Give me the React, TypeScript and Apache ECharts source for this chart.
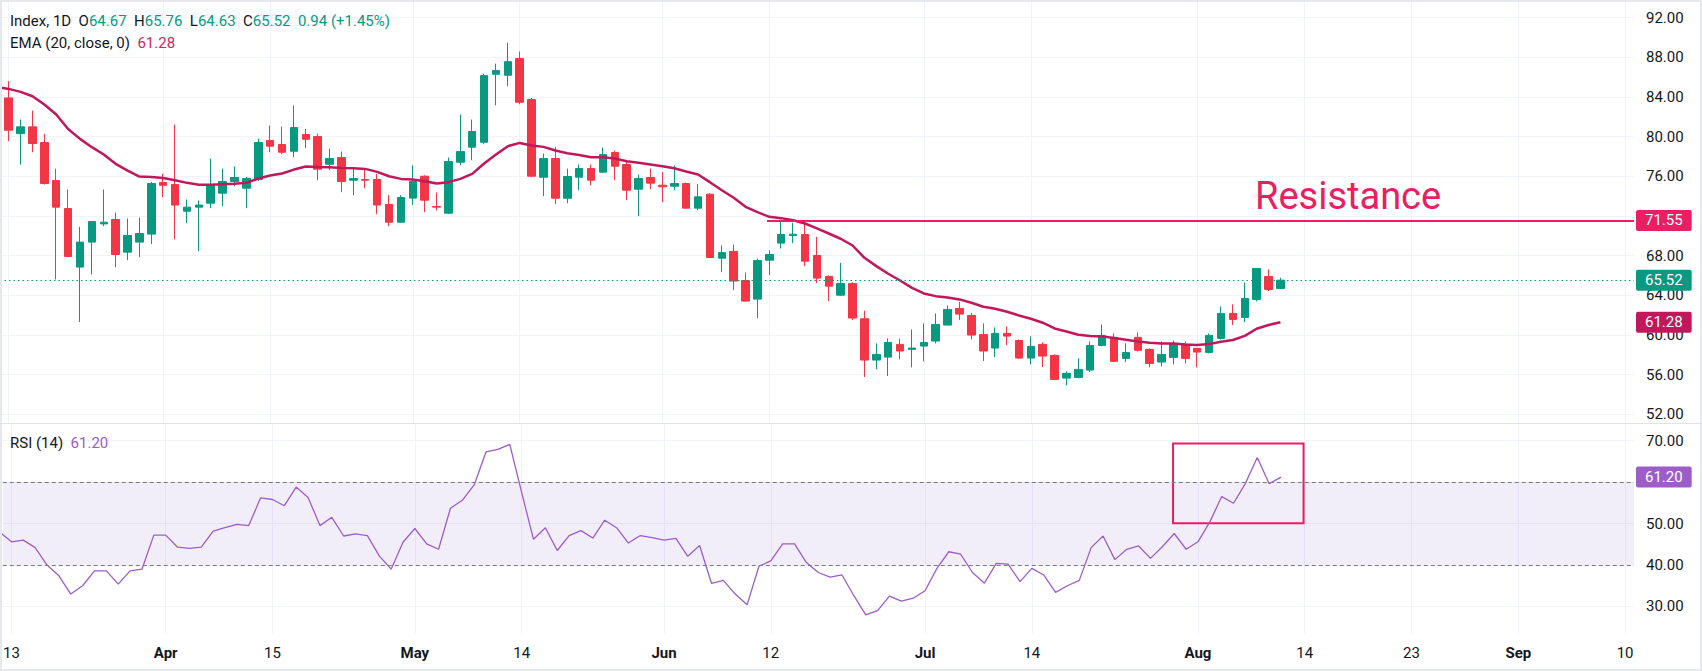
import React, { useEffect, useRef } from "react";
import * as echarts from "echarts";

// ---- data (bar index of first entry = FIRST_BAR) ----
const FIRST_BAR = -1;
const OPEN = [85.6, 83.91, 80.31, 80.99, 79.41, 75.57, 72.75, 66.84, 69.36, 71.2, 71.64, 68.35, 69.36, 70.17, 75.37, 75.17, 72.48, 72.89, 73.29, 74.3, 75.47, 74.8, 75.68, 79.61, 79.21, 78.53, 80.21, 80.01, 77.22, 77.89, 75.61, 75.68, 75.68, 73.16, 71.37, 73.8, 76.01, 72.95, 72.28, 77.42, 78.94, 79.44, 86.3, 86.2, 87.88, 83.74, 75.91, 77.79, 73.79, 75.91, 76.78, 76.42, 78.4, 77.19, 74.7, 75.88, 75.1, 75.0, 75.27, 72.79, 74.2, 67.74, 68.42, 65.49, 63.61, 67.54, 69.26, 70.03, 70.13, 68.01, 65.9, 64.01, 65.19, 61.63, 57.46, 57.76, 59.04, 58.54, 58.87, 59.38, 60.99, 62.67, 61.96, 60.05, 58.67, 60.15, 59.44, 57.66, 59.04, 57.93, 55.64, 55.71, 56.45, 58.94, 59.75, 57.63, 59.75, 58.54, 57.26, 57.73, 59.04, 58.64, 58.23, 59.64, 62.17, 61.76, 63.58, 65.9, 64.67];
const HIGH = [86.0, 85.59, 81.73, 82.63, 80.28, 76.78, 74.67, 70.9, 71.5, 74.67, 72.35, 71.74, 71.84, 75.44, 76.25, 81.22, 73.66, 73.56, 77.79, 76.78, 76.99, 75.94, 79.81, 81.12, 81.02, 83.14, 80.78, 80.31, 78.8, 78.5, 76.75, 76.65, 76.25, 74.1, 74.1, 77.1, 76.11, 74.37, 77.89, 82.23, 81.73, 86.36, 87.37, 89.49, 88.58, 83.91, 78.3, 78.97, 76.78, 77.19, 77.19, 78.9, 78.6, 77.63, 76.18, 76.78, 76.42, 77.09, 75.37, 75.21, 74.3, 69.02, 69.12, 66.3, 67.71, 68.52, 71.44, 71.31, 71.54, 69.9, 66.0, 67.27, 65.29, 62.44, 59.14, 59.64, 59.64, 60.55, 61.16, 62.16, 62.97, 63.34, 62.23, 61.16, 60.75, 60.85, 59.54, 59.85, 59.24, 58.03, 56.32, 57.63, 59.34, 61.06, 60.15, 59.14, 60.25, 58.64, 59.34, 59.44, 59.34, 58.67, 60.15, 62.87, 63.07, 65.29, 66.75, 66.6, 65.76];
const LOW = [83.5, 79.54, 77.19, 78.43, 75.17, 65.59, 67.84, 61.3, 66.1, 70.97, 66.84, 67.54, 67.84, 69.16, 73.9, 69.63, 71.27, 68.45, 72.79, 72.99, 75.0, 72.79, 75.54, 78.43, 78.23, 77.93, 78.84, 75.61, 76.62, 74.4, 74.1, 74.8, 72.18, 70.97, 71.3, 73.1, 72.38, 72.55, 72.2, 77.12, 77.63, 79.24, 83.17, 85.09, 83.27, 75.91, 74.0, 73.19, 73.29, 74.6, 75.1, 76.35, 75.61, 73.59, 71.98, 74.7, 73.39, 74.6, 72.75, 72.58, 67.74, 66.33, 64.52, 63.35, 61.69, 66.03, 68.72, 69.26, 66.94, 65.23, 63.41, 63.95, 61.49, 55.75, 56.52, 55.85, 57.53, 56.72, 57.33, 59.14, 60.97, 61.49, 59.54, 57.36, 57.76, 58.97, 57.6, 57.02, 56.76, 55.44, 54.91, 55.61, 56.25, 58.84, 57.26, 57.26, 58.33, 56.72, 56.82, 57.02, 57.12, 56.72, 58.13, 59.54, 61.0, 61.29, 63.38, 64.42, 64.63];
const CLOSE = [83.9, 80.65, 80.99, 79.31, 75.27, 72.89, 67.91, 69.36, 71.44, 71.37, 68.11, 70.03, 70.23, 75.27, 75.1, 73.1, 72.89, 73.1, 75.1, 75.47, 75.88, 75.78, 79.41, 79.04, 78.43, 80.92, 79.74, 76.72, 77.79, 75.47, 75.78, 75.61, 73.1, 71.37, 73.86, 75.47, 73.59, 72.89, 77.49, 78.5, 80.52, 86.16, 86.67, 87.57, 83.47, 76.01, 77.79, 73.79, 75.98, 76.78, 75.61, 78.2, 77.02, 74.6, 75.78, 75.31, 74.94, 75.27, 72.79, 73.93, 67.81, 68.3, 65.43, 63.41, 67.51, 68.11, 70.13, 70.16, 67.44, 65.73, 64.92, 65.19, 61.7, 57.46, 58.03, 59.24, 58.37, 58.67, 59.24, 61.06, 62.57, 62.1, 59.98, 58.37, 60.15, 59.88, 57.66, 58.84, 57.86, 55.51, 56.12, 56.52, 58.94, 59.95, 57.33, 58.23, 58.44, 57.12, 58.03, 59.14, 57.63, 58.27, 59.95, 62.17, 61.56, 63.68, 66.7, 64.58, 65.52];
const EMA20 = [85.0, 84.82, 84.52, 84.08, 83.24, 82.23, 80.78, 79.78, 78.94, 78.2, 77.26, 76.58, 75.98, 75.94, 75.84, 75.61, 75.34, 75.14, 75.14, 75.2, 75.24, 75.34, 75.78, 76.08, 76.28, 76.68, 76.99, 76.95, 76.92, 76.85, 76.82, 76.75, 76.45, 76.01, 75.74, 75.68, 75.51, 75.27, 75.41, 75.74, 76.25, 77.29, 78.2, 79.04, 79.37, 79.1, 78.97, 78.6, 78.33, 78.16, 77.93, 77.93, 77.79, 77.52, 77.36, 77.19, 77.02, 76.82, 76.48, 76.18, 75.41, 74.6, 73.83, 72.92, 72.38, 71.91, 71.78, 71.56, 71.24, 70.74, 70.23, 69.7, 69.02, 67.78, 66.94, 66.17, 65.49, 64.75, 64.18, 63.91, 63.78, 63.58, 63.24, 62.84, 62.64, 62.33, 61.96, 61.63, 61.23, 60.65, 60.35, 60.02, 59.88, 59.85, 59.68, 59.51, 59.34, 59.21, 59.14, 59.14, 59.04, 58.97, 59.07, 59.31, 59.48, 59.9, 60.62, 61.0, 61.28];
const RSI14 = [48.0, 45.6, 46.0, 44.2, 40.0, 37.4, 33.0, 35.0, 38.6, 38.6, 35.4, 38.6, 39.0, 47.2, 47.2, 44.3, 44.0, 44.3, 48.2, 49.0, 49.8, 49.5, 56.2, 55.8, 54.3, 58.8, 56.3, 49.5, 51.5, 47.0, 47.5, 47.1, 42.2, 39.0, 45.5, 48.8, 45.1, 43.8, 53.7, 55.6, 59.3, 67.3, 67.9, 69.1, 57.5, 46.2, 49.0, 43.5, 47.1, 48.3, 46.5, 50.8, 49.0, 45.3, 47.1, 46.6, 46.0, 46.4, 42.1, 44.7, 35.6, 36.3, 33.0, 30.4, 39.7, 41.0, 45.1, 45.1, 40.6, 38.2, 37.1, 37.6, 32.6, 28.0, 29.0, 32.5, 31.3, 32.0, 33.8, 39.2, 43.2, 42.6, 38.2, 35.6, 40.4, 40.2, 36.0, 39.2, 37.6, 33.4, 35.0, 36.3, 44.2, 47.0, 41.3, 43.8, 44.6, 41.6, 44.4, 47.6, 43.8, 45.6, 50.4, 56.5, 54.9, 59.7, 65.9, 59.6, 61.2];

const X_TICKS = [0, 13, 22, 34, 43, 55, 64, 77, 86, 100, 109, 118, 127, 136];
const X_TICK_LABELS = ["13", "Apr", "15", "May", "14", "Jun", "12", "Jul", "14", "Aug", "14", "23", "Sep", "10"];
const MONTHS = ["Apr", "May", "Jun", "Jul", "Aug", "Sep"];
const PRICE_TICKS = [52, 56, 60, 64, 68, 72, 76, 80, 84, 88, 92];
const PRICE_LABEL_TICKS = [52, 56, 60, 64, 68, 76, 80, 84, 88, 92];
const RSI_TICKS = [30, 40, 50, 60, 70];
const RSI_LABEL_TICKS = [30, 40, 50, 70];
const RSI_UPPER = 60;
const RSI_LOWER = 40;
const RESISTANCE_LEVEL = 71.55;
const RESISTANCE_START = 63.8;
const RSI_BOX_FROM = [97.9, 69.3];
const RSI_BOX_TO = [108.9, 50.1];
const LEGEND_CHANGE = "0.94 (+1.45%)";

// ---- layout ----
const X_MIN = -0.73;
const X_MAX = 136.75;
const PRICE_MIN = 51.11;
const PRICE_MAX = 93.79;
const RSI_MIN = 23.37;
const RSI_MAX = 74.24;

const UP = "#089981";
const DOWN = "#F23645";
const EMA_COLOR = "#C2185B";
const RSI_COLOR = "#9C5DC9";
const RES_COLOR = "#E91E63";
const TEXT = "#131722";
const GRID = "#F0F3FA";
const FONT = 'Roboto, "Noto Sans", sans-serif';
const FS = 15;
const HIDDEN_LINE = { color: "rgba(0,0,0,0)", width: 0 };

function boxLabel(text: string, bg: string) {
  return {
    show: true,
    position: "end",
    distance: 2,
    formatter: text,
    color: "#ffffff",
    backgroundColor: bg,
    padding: [3, 9, 3, 9],
    fontSize: FS,
    fontFamily: FONT,
    borderRadius: 2,
  };
}

export default function App() {
  const ref = useRef<HTMLDivElement>(null);
  useEffect(() => {
    document.body.style.margin = "0";
    const chart = echarts.init(ref.current!, undefined, { renderer: "svg" });
    const last = CLOSE.length - 1;
    const xOf = (i: number) => FIRST_BAR + i;
    const candles = OPEN.map((o, i) => [xOf(i), o, CLOSE[i], LOW[i], HIGH[i]]);
    const ema = EMA20.map((v, i) => [xOf(i), v]);
    const rsi = RSI14.map((v, i) => [xOf(i), v]);
    const f2 = (v: number) => v.toFixed(2);
    const xLabel = (v: number) => {
      const k = X_TICKS.findIndex((t) => Math.abs(t - v) < 1e-6);
      if (k < 0) return "";
      const s = X_TICK_LABELS[k];
      return MONTHS.includes(s) ? `{b|${s}}` : s;
    };
    const xAxisBase = {
      type: "value",
      min: X_MIN,
      max: X_MAX,
      axisLine: { show: false },
      axisTick: { show: false, customValues: X_TICKS },
      splitLine: { show: true, lineStyle: { color: GRID, width: 1 } },
    };
    const yLabel = { color: TEXT, fontSize: FS, fontFamily: FONT, margin: 12, formatter: (v: number) => f2(v) };
    const dashed = { color: "#787B86", width: 1, type: [4, 3] };
    const option: any = {
      animation: false,
      backgroundColor: "#ffffff",
      grid: [
        { left: 0, right: 68, top: 0, height: 423 },
        { left: 0, right: 68, top: 423, height: 211 },
      ],
      xAxis: [
        { ...xAxisBase, gridIndex: 0, axisLabel: { show: false, customValues: X_TICKS } },
        {
          ...xAxisBase,
          gridIndex: 1,
          axisLabel: {
            show: true,
            customValues: X_TICKS,
            formatter: xLabel,
            color: TEXT,
            fontSize: FS,
            fontFamily: FONT,
            margin: 11,
            rich: { b: { fontWeight: "bold", color: TEXT, fontSize: FS, fontFamily: FONT } },
          },
        },
      ],
      yAxis: [
        {
          type: "value",
          gridIndex: 0,
          position: "right",
          min: PRICE_MIN,
          max: PRICE_MAX,
          axisLine: { show: false },
          axisTick: { show: false, customValues: PRICE_TICKS },
          axisLabel: { ...yLabel, customValues: PRICE_LABEL_TICKS },
          splitLine: { show: true, lineStyle: { color: GRID, width: 1 } },
        },
        {
          type: "value",
          gridIndex: 1,
          position: "right",
          min: RSI_MIN,
          max: RSI_MAX,
          axisLine: { show: false },
          axisTick: { show: false, customValues: RSI_TICKS },
          axisLabel: { ...yLabel, customValues: RSI_LABEL_TICKS },
          splitLine: { show: true, lineStyle: { color: GRID, width: 1 } },
        },
      ],
      series: [
        {
          type: "candlestick",
          layout: "horizontal",
          xAxisIndex: 0,
          yAxisIndex: 0,
          barWidth: 8,
          data: candles,
          itemStyle: { color: UP, color0: DOWN, borderColor: UP, borderColor0: DOWN, borderWidth: 1 },
          z: 2,
        },
        {
          type: "line",
          xAxisIndex: 0,
          yAxisIndex: 0,
          data: ema,
          showSymbol: false,
          symbol: "none",
          lineStyle: { color: EMA_COLOR, width: 2.5 },
          z: 3,
          markLine: {
            silent: true,
            symbol: ["none", "none"],
            animation: false,
            data: [
              [
                {
                  coord: [RESISTANCE_START, RESISTANCE_LEVEL],
                  lineStyle: { color: RES_COLOR, width: 2, type: "solid" },
                  label: boxLabel(f2(RESISTANCE_LEVEL), RES_COLOR),
                },
                { coord: [X_MAX, RESISTANCE_LEVEL] },
              ],
              {
                yAxis: CLOSE[last],
                lineStyle: { color: UP, width: 1, type: [1.5, 3] },
                label: boxLabel(f2(CLOSE[last]), UP),
              },
              {
                yAxis: EMA20[last],
                lineStyle: HIDDEN_LINE,
                label: boxLabel(f2(EMA20[last]), EMA_COLOR),
              },
            ],
          },
        },
        {
          type: "line",
          xAxisIndex: 1,
          yAxisIndex: 1,
          data: rsi,
          showSymbol: false,
          symbol: "none",
          lineStyle: { color: RSI_COLOR, width: 1.3 },
          z: 3,
          markArea: {
            silent: true,
            data: [
              [{ yAxis: RSI_LOWER, itemStyle: { color: "rgba(126,87,194,0.1)" } }, { yAxis: RSI_UPPER }],
              [
                { coord: RSI_BOX_FROM, itemStyle: { color: "rgba(0,0,0,0)", borderColor: RES_COLOR, borderWidth: 2 } },
                { coord: RSI_BOX_TO },
              ],
            ],
          },
          markLine: {
            silent: true,
            symbol: ["none", "none"],
            animation: false,
            data: [
              { yAxis: RSI_UPPER, lineStyle: dashed, label: { show: false } },
              { yAxis: RSI_LOWER, lineStyle: dashed, label: { show: false } },
              { yAxis: RSI14[last], lineStyle: HIDDEN_LINE, label: boxLabel(f2(RSI14[last]), RSI_COLOR) },
            ],
          },
        },
      ],
      graphic: [
        {
          type: "rect",
          silent: true,
          shape: { x: 0, y: 0, width: 1702, height: 671 },
          style: { fill: "none", stroke: "#E6E8EE", lineWidth: 4 },
          z: 100,
        },
        {
          type: "line",
          silent: true,
          shape: { x1: 0, y1: 423.5, x2: 1702, y2: 423.5 },
          style: { stroke: "#E0E3EB", lineWidth: 1 },
          z: 100,
        },
        {
          type: "text",
          x: 10,
          y: 21,
          style: {
            text:
              `{d|Index, 1D}  {d|O}{v|${f2(OPEN[last])}}  {d|H}{v|${f2(HIGH[last])}}  ` +
              `{d|L}{v|${f2(LOW[last])}}  {d|C}{v|${f2(CLOSE[last])}}  {v|${LEGEND_CHANGE}}`,
            verticalAlign: "middle",
            font: `${FS}px ${FONT}`,
            fill: TEXT,
            rich: {
              d: { fill: TEXT, fontSize: FS, fontFamily: FONT },
              v: { fill: UP, fontSize: FS, fontFamily: FONT },
            },
          },
          z: 100,
        },
        {
          type: "text",
          x: 10,
          y: 43,
          style: {
            text: `{d|EMA (20, close, 0)}  {e|${f2(EMA20[last])}}`,
            verticalAlign: "middle",
            font: `${FS}px ${FONT}`,
            fill: TEXT,
            rich: {
              d: { fill: TEXT, fontSize: FS, fontFamily: FONT },
              e: { fill: "#D0245E", fontSize: FS, fontFamily: FONT },
            },
          },
          z: 100,
        },
        {
          type: "text",
          x: 10,
          y: 443,
          style: {
            text: `{d|RSI (14)}  {r|${f2(RSI14[last])}}`,
            verticalAlign: "middle",
            font: `${FS}px ${FONT}`,
            fill: TEXT,
            rich: {
              d: { fill: TEXT, fontSize: FS, fontFamily: FONT },
              r: { fill: RSI_COLOR, fontSize: FS, fontFamily: FONT },
            },
          },
          z: 100,
        },
        {
          type: "text",
          x: 1255,
          y: 196,
          style: {
            text: "Resistance",
            verticalAlign: "middle",
            font: `38px ${FONT}`,
            fill: RES_COLOR,
          },
          z: 100,
        },
      ],
    };
    chart.setOption(option);
    return () => chart.dispose();
  }, []);
  return <div ref={ref} style={{ width: 1702, height: 671 }} />;
}
